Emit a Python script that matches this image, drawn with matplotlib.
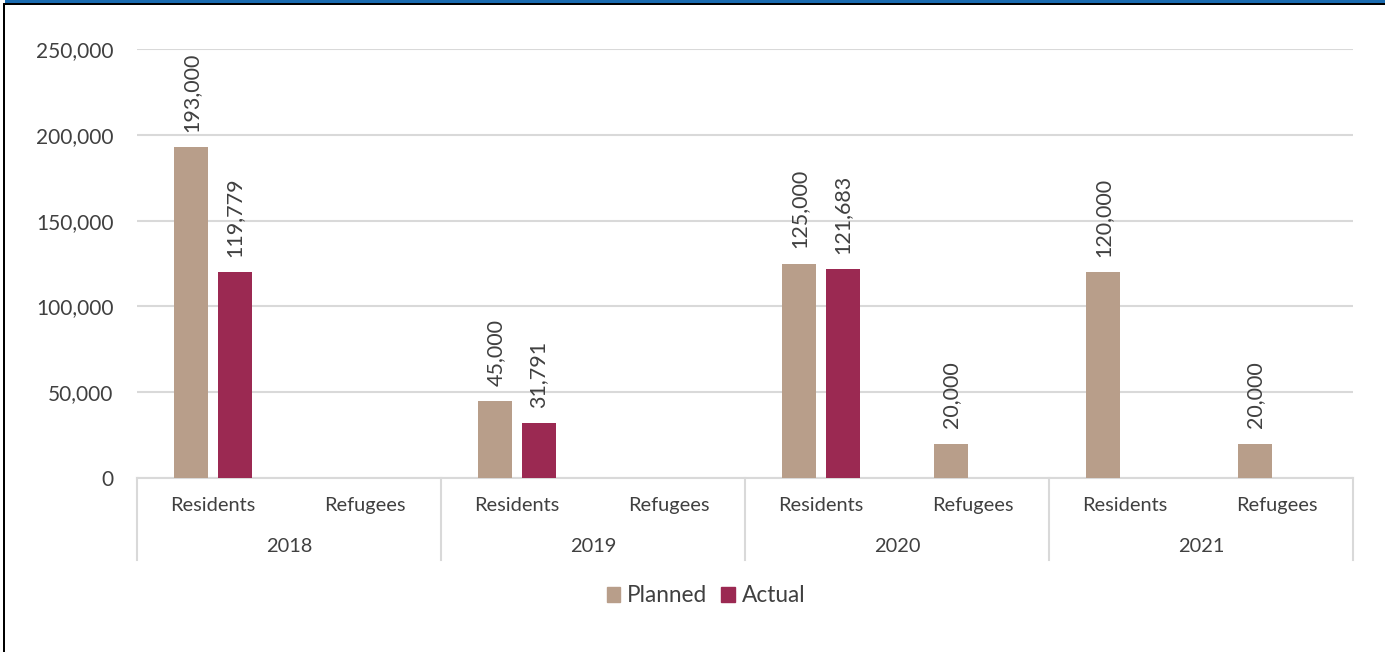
import matplotlib.pyplot as plt
from matplotlib.lines import Line2D
from matplotlib.patches import Patch, Rectangle

years = ['2018', '2019', '2020', '2021']
groups = ['Residents', 'Refugees']
planned = [193000, 0, 45000, 0, 125000, 20000, 120000, 20000]
actual = [119779, 0, 31791, 0, 121683, 0, 0, 0]

planned_color = '#B89E8A'
actual_color = '#9B2952'
text_color = '#404040'
grid_color = '#D9D9D9'

plt.rcParams['font.family'] = ['Lato', 'DejaVu Sans']

W, H = 1385, 652
fig = plt.figure(figsize=(W / 100, H / 100), dpi=100)
ax = fig.add_axes([137 / W, 1 - 478 / H, (1353 - 137) / W, (478 - 49) / H])

x = [i + 0.5 for i in range(len(planned))]
width = 0.224
off = 0.142
ax.bar([i - off for i in x], planned, width, color=planned_color, zorder=3)
ax.bar([i + off for i in x], actual, width, color=actual_color, zorder=3)

# data labels, only on non-empty bars
for xi, p, a in zip(x, planned, actual):
    if p:
        ax.annotate(f'{p:,}', (xi - off, p), xytext=(0, 11), textcoords='offset points',
                    rotation=90, ha='center', va='bottom', fontsize=15.5, color=text_color)
    if a:
        ax.annotate(f'{a:,}', (xi + off, a), xytext=(0, 11), textcoords='offset points',
                    rotation=90, ha='center', va='bottom', fontsize=15.5, color=text_color)

ax.set_xlim(0, 8)
ax.set_ylim(0, 250000)
ax.set_yticks(range(0, 250001, 50000))
ax.set_yticklabels([f'{v:,}' for v in range(0, 250001, 50000)])
ax.tick_params(axis='y', length=0, pad=17, labelsize=15, labelcolor=text_color)
ax.set_xticks([])
ax.grid(axis='y', color=grid_color, linewidth=1.5, zorder=0)
for s in ['top', 'right', 'left']:
    ax.spines[s].set_visible(False)
ax.spines['bottom'].set_color(grid_color)
ax.spines['bottom'].set_linewidth(1.5)

# two-level category axis
tr = ax.get_xaxis_transform()
for i, xi in enumerate(x):
    ax.text(xi, -0.063, groups[i % 2], transform=tr, ha='center', va='center',
            fontsize=14.4, color=text_color)
for j, yr in enumerate(years):
    ax.text(2 * j + 1, -0.159, yr, transform=tr, ha='center', va='center',
            fontsize=14.4, color=text_color)
for k in range(0, 9, 2):
    ax.add_line(Line2D([k, k], [0, -0.191], transform=tr, color=grid_color,
                       linewidth=1.5, clip_on=False))

handles = [Patch(color=planned_color, label='Planned'), Patch(color=actual_color, label='Actual')]
fig.legend(handles=handles, loc='center', bbox_to_anchor=(706 / W, 1 - 596 / H), ncol=2,
           frameon=False, fontsize=16.3, handlelength=0.6, handleheight=0.6,
           handletextpad=0.3, columnspacing=0.6, labelcolor=text_color)

# frame lines around the picture
fig.add_artist(Rectangle((5 / W, 1 - 3 / H), 1, 3 / H, color='#1A6BB0', lw=0))
fig.add_artist(Rectangle((3 / W, 1 - 5 / H), 1, 2 / H, color='black', lw=0))
fig.add_artist(Rectangle((3 / W, 0), 2 / W, 1 - 3 / H, color='black', lw=0))

fig.savefig('out.png', dpi=100, facecolor='white')
